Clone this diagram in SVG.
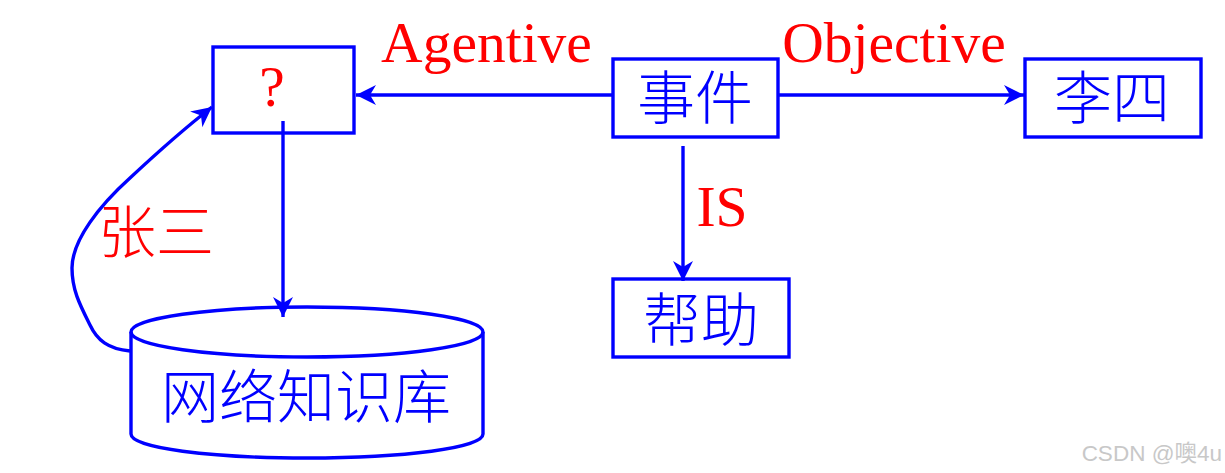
<svg xmlns="http://www.w3.org/2000/svg" width="1225" height="473" viewBox="0 0 1225 473">
<defs>
<marker id="arrow" markerUnits="userSpaceOnUse" markerWidth="26" markerHeight="24" refX="23" refY="12" orient="auto">
<path d="M3 2 L23 12 L3 22 L9 12 Z" fill="#0000ff"/>
</marker>
</defs>
<style>
.box{fill:#fff;stroke:#0000ff;stroke-width:3.4}
.line{fill:none;stroke:#0000ff;stroke-width:3.4}
.cn{font-family:"Noto Sans CJK SC",sans-serif;font-size:58px;font-weight:300;fill:#0000ff;text-anchor:middle}
.cnr{font-family:"Noto Sans CJK SC",sans-serif;font-size:58px;font-weight:300;fill:#ff0000;text-anchor:middle}
.en{font-family:"Liberation Serif",serif;font-size:57.5px;fill:#ff0000;text-anchor:middle}
</style>
<rect width="1225" height="473" fill="#fff"/>
<g id="node-question">
<rect class="box" x="213" y="47" width="141" height="86"/>
<text class="en" x="272" y="106">?</text>
</g>
<g id="node-event">
<rect class="box" x="613" y="59" width="165" height="78"/>
<text class="cn" x="695" y="119">事件</text>
</g>
<g id="node-lisi">
<rect class="box" x="1025" y="59" width="176" height="78"/>
<text class="cn" x="1112" y="119">李四</text>
</g>
<g id="node-help">
<rect class="box" x="613" y="279" width="176" height="78"/>
<text class="cn" x="701" y="341">帮助</text>
</g>
<g id="node-kb">
<path class="box" d="M131 332 C131 318 210 307 307 307 C404 307 483 318 483 332 L483 434 C483 448 404 458 307 458 C210 458 131 448 131 434 Z"/>
<path class="line" d="M131 332 C131 346 210 357 307 357 C404 357 483 346 483 332"/>
<text class="cn" x="306" y="418">网络知识库</text>
</g>
<g id="connectors">
<path class="line" d="M612 95 H356" marker-end="url(#arrow)"/>
<path class="line" d="M778 95 H1024" marker-end="url(#arrow)"/>
<path class="line" d="M683 146 V281" marker-end="url(#arrow)"/>
<path class="line" d="M283 121 V317" marker-end="url(#arrow)"/>
<path class="line" d="M130 351 C108 349 97 340 90 325 C80 305 72 290 72 268 C72 240 100 205 130 178 C160 150 185 128 212 107" marker-end="url(#arrow)"/>
</g>
<g id="labels">
<text class="en" x="486.5" y="62">Agentive</text>
<text class="en" x="894" y="62">Objective</text>
<text class="en" x="722" y="226">IS</text>
<text class="cnr" x="156" y="253">张三</text>
</g>
<text x="1222" y="461" text-anchor="end" font-family="'Liberation Sans','Noto Sans CJK SC',sans-serif" font-size="22.5" fill="#c8c8c8">CSDN @噢4u</text>
</svg>
